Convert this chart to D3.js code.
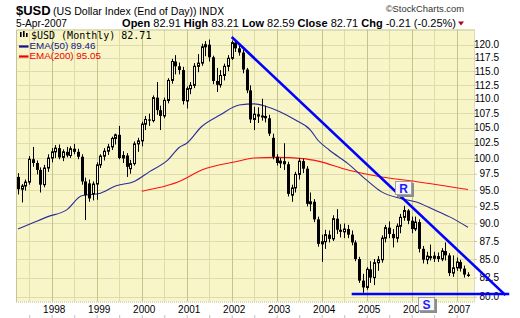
<!DOCTYPE html>
<html>
<head>
<meta charset="utf-8">
<script src="https://cdn.jsdelivr.net/npm/d3@7"></script>
<style>
  body { margin: 0; background: #fff; }
  svg { display: block; }
</style>
</head>
<body>
<div id="chart"></div>
<script>
// monthly bars, first one is April 1997
const firstMonth = "1997-04";

const opens = [
  97.0, 95.1, 95.6, 96.2, 99.8, 99.2, 98.1, 95.8, 98.4, 100.0, 101.0, 101.6,
  100.1, 101.0, 100.4, 101.5, 101.0, 100.2, 96.3, 96.0, 94.4, 95.9, 98.9, 100.3,
  101.1, 101.8, 103.2, 103.8, 100.0, 100.4, 98.3, 99.1, 102.3, 102.8, 105.6, 106.4,
  106.2, 110.2, 108.0, 107.0, 109.7, 113.3, 116.8, 115.9, 115.2, 109.6, 111.8, 112.4,
  115.9, 116.5, 119.6, 120.0, 117.6, 113.2, 112.5, 114.2, 115.9, 117.4, 120.4, 119.3,
  118.5, 115.3, 111.5, 106.4, 107.3, 106.9, 107.0, 106.6, 103.3, 100.2, 99.2, 99.5,
  99.0, 94.2, 95.3, 97.4, 99.5, 98.3, 92.9, 93.2, 90.6, 87.1, 87.4, 88.4,
  87.8, 90.7, 89.1, 88.8, 89.2, 88.4, 87.3, 85.0, 82.1, 81.2, 83.6, 82.5,
  84.5, 84.9, 87.9, 89.4, 88.5, 87.9, 89.6, 90.9, 91.9, 90.4, 89.2, 90.2,
  86.4, 84.9, 85.4, 85.1, 85.4, 85.0, 86.1, 85.5, 83.1, 83.8, 84.6, 83.7,
  82.91
];
const highs = [
  97.6, 95.9, 96.6, 100.3, 101.8, 99.6, 98.5, 98.9, 100.6, 101.6, 102.1, 102.2,
  101.4, 101.8, 101.9, 102.3, 101.5, 100.6, 96.9, 96.6, 96.3, 99.3, 100.6, 101.6,
  102.3, 103.5, 104.0, 105.3, 101.1, 100.8, 99.7, 102.7, 103.3, 106.0, 107.0, 107.4,
  110.6, 113.0, 108.8, 110.2, 113.7, 117.3, 118.0, 116.6, 115.8, 112.2, 113.0, 116.5,
  118.2, 120.2, 120.7, 121.0, 117.9, 115.6, 115.2, 116.4, 118.0, 120.8, 120.9, 120.0,
  119.0, 115.6, 112.4, 108.6, 108.5, 110.0, 108.8, 107.2, 104.0, 100.6, 100.0, 102.4,
  99.4, 95.8, 97.8, 100.0, 99.9, 98.7, 94.6, 93.6, 91.0, 88.4, 89.1, 89.0,
  91.2, 92.1, 89.9, 90.0, 89.8, 89.0, 87.6, 85.3, 83.0, 83.9, 84.7, 85.0,
  85.4, 88.3, 89.8, 90.3, 89.2, 90.0, 91.4, 92.6, 92.1, 91.0, 91.0, 90.6,
  86.8, 86.0, 87.0, 86.0, 85.9, 86.5, 87.3, 85.8, 85.5, 85.2, 84.9, 84.1,
  83.21
];
const lows = [
  94.3, 93.1, 94.9, 95.8, 98.6, 97.4, 94.6, 95.4, 97.8, 99.3, 100.0, 99.8,
  99.5, 100.1, 100.0, 100.6, 99.8, 95.8, 90.5, 93.2, 93.4, 93.5, 98.4, 99.6,
  100.5, 101.3, 102.2, 99.8, 99.2, 97.0, 97.5, 98.8, 101.0, 101.9, 104.6, 105.3,
  105.9, 107.2, 104.6, 106.6, 109.2, 112.7, 114.4, 114.4, 109.0, 108.3, 110.8, 111.9,
  114.8, 116.0, 117.8, 116.8, 112.6, 111.2, 112.0, 113.3, 115.0, 117.1, 118.6, 117.9,
  114.6, 111.0, 105.8, 104.6, 105.8, 106.2, 105.9, 103.6, 99.8, 98.8, 98.4, 98.1,
  94.0, 93.2, 94.6, 96.6, 97.6, 92.5, 91.8, 90.2, 86.7, 84.6, 86.4, 87.3,
  87.5, 88.5, 88.0, 87.9, 87.9, 86.9, 84.7, 81.8, 80.5, 80.9, 81.8, 81.5,
  83.4, 84.5, 87.3, 87.9, 86.6, 87.3, 88.6, 90.4, 89.9, 88.6, 88.9, 85.9,
  84.4, 84.3, 84.8, 84.6, 84.6, 84.7, 84.8, 82.7, 82.6, 83.4, 83.3, 82.5,
  82.59
];
const closes = [
  95.1, 95.6, 96.2, 99.8, 99.2, 98.1, 95.8, 98.4, 100.0, 101.0, 101.6, 100.1,
  101.0, 100.4, 101.5, 101.0, 100.2, 96.3, 94.2, 93.7, 95.9, 98.9, 100.3, 101.1,
  101.8, 103.2, 103.8, 100.0, 100.4, 98.6, 99.1, 102.3, 102.8, 105.6, 106.4, 106.2,
  110.2, 108.0, 107.0, 109.7, 113.3, 116.8, 115.9, 115.2, 109.6, 111.8, 112.4, 115.9,
  116.5, 119.6, 120.0, 117.6, 113.2, 112.5, 114.2, 115.9, 117.4, 120.4, 119.3, 118.5,
  115.3, 111.5, 106.4, 107.3, 106.9, 107.0, 106.6, 104.0, 100.2, 99.2, 99.5, 99.0,
  94.4, 95.3, 97.4, 99.5, 98.3, 92.9, 93.2, 90.6, 87.1, 87.4, 88.4, 87.8,
  90.7, 89.1, 88.8, 89.2, 88.4, 87.3, 85.0, 82.1, 81.2, 83.6, 82.5, 84.5,
  84.9, 87.9, 89.4, 88.5, 87.9, 89.6, 90.9, 91.9, 90.4, 89.2, 90.2, 86.4,
  84.9, 85.4, 85.1, 85.4, 85.0, 86.1, 85.5, 83.1, 83.8, 84.6, 83.7, 82.9,
  82.71
];

const ema50 = [
  ["1997-04", 89.2], ["1997-08", 90.1], ["1997-12", 91.0], ["1998-05", 92.0],
  ["1998-09", 94.1], ["1999-02", 94.5], ["1999-06", 95.6], ["1999-11", 96.3],
  ["2000-03", 97.8], ["2000-08", 99.7], ["2000-11", 101.7], ["2001-01", 102.4],
  ["2001-05", 105.2], ["2001-10", 107.2], ["2002-03", 108.9], ["2002-07", 109.1],
  ["2002-10", 108.7], ["2003-02", 107.7], ["2003-06", 106.3], ["2003-10", 104.6],
  ["2003-12", 102.9], ["2004-03", 101.3], ["2004-08", 99.1], ["2005-01", 96.5],
  ["2005-05", 94.7], ["2005-10", 93.7], ["2006-02", 93.2], ["2006-07", 92.0],
  ["2006-11", 91.0], ["2007-04", 89.46]
];
const ema200 = [
  ["2000-01", 94.8], ["2000-08", 95.7], ["2000-11", 96.3], ["2001-05", 98.1],
  ["2002-02", 99.4], ["2002-07", 100.0], ["2003-01", 100.1], ["2003-08", 99.9],
  ["2003-12", 99.5], ["2004-08", 98.1], ["2005-05", 97.0], ["2006-02", 96.3],
  ["2007-04", 95.05]
];

const priceTicks = [80, 82.5, 85, 87.5, 90, 92.5, 95, 97.5, 100, 102.5, 105, 107.5, 110, 112.5, 115, 117.5, 120];
const yearLabels = [1998, 1999, 2000, 2001, 2002, 2003, 2004, 2005, 2006, 2007];

// drawn-in trend lines and their labels
const resistance = [["2002-01", 121.5], ["2008-02", 80.2]];
const support = [["2004-09", 80.35], ["2008-03", 80.35]];
const notes = [{ text: "R", month: "2005-11", value: 95.2 }, { text: "S", month: "2006-05", value: 79.0 }];

const quote = [["Open", "82.91"], ["High", "83.21"], ["Low", "82.59"], ["Close", "82.71"], ["Chg", "-0.21 (-0.25%)"]];

const width = 520, height = 318;
const plot = { left: 16, right: 474, top: 29.5, bottom: 301.5 };

const [y0, m0] = firstMonth.split("-").map(Number);
const monthIndex = s => {
  const [yy, mm] = s.split("-").map(Number);
  return (yy - y0) * 12 + (mm - m0);
};

const bars = closes.map((c, i) => ({ i, o: opens[i], h: highs[i], l: lows[i], c }));

const x = d3.scaleLinear().domain([0, 120]).range([17.95, 467.95]);
const y = d3.scaleLog().domain([80, 120]).range([296.7, 44.7]);

const svg = d3.select("#chart").append("svg")
  .attr("width", width)
  .attr("height", height)
  .style("font-family", "Arial, 'Liberation Sans', sans-serif");

svg.append("rect").attr("width", width).attr("height", height).attr("fill", "#fff");

const bg = "#f8f6c8";
svg.append("rect")
  .attr("x", plot.left).attr("y", plot.top)
  .attr("width", plot.right - plot.left).attr("height", plot.bottom - plot.top)
  .attr("fill", bg);

svg.append("defs").append("clipPath").attr("id", "clip")
  .append("rect")
  .attr("x", plot.left).attr("y", plot.top)
  .attr("width", plot.right - plot.left).attr("height", plot.bottom - plot.top);

// grid
const halfYears = [];
for (let yr = 1997; yr <= 2007; yr++) {
  [1, 7].forEach(m => {
    const idx = monthIndex(`${yr}-${String(m).padStart(2, "0")}`);
    if (idx >= 0 && idx <= 120) halfYears.push({ idx, jan: m === 1 });
  });
}
const grid = svg.append("g");
grid.selectAll("line.h")
  .data(priceTicks)
  .join("line")
  .attr("class", "h")
  .attr("x1", plot.left).attr("x2", plot.right)
  .attr("y1", d => Math.round(y(d)) + 0.5).attr("y2", d => Math.round(y(d)) + 0.5)
  .attr("stroke", "#dddcaa");
grid.selectAll("line.v")
  .data(halfYears)
  .join("line")
  .attr("class", "v")
  .attr("x1", d => Math.round(x(d.idx)) + 0.5).attr("x2", d => Math.round(x(d.idx)) + 0.5)
  .attr("y1", plot.top).attr("y2", plot.bottom)
  .attr("stroke", d => d.jan ? "#c2c48c" : "#dddcaa");

// border
svg.append("path")
  .attr("d", `M${plot.left + 0.5},${plot.bottom}V${plot.top + 0.5}H${plot.right}`)
  .attr("fill", "none").attr("stroke", "#c4c498");
svg.append("path")
  .attr("d", `M${plot.left},${plot.bottom + 0.5}H${plot.right + 0.5}V${plot.top}`)
  .attr("fill", "none").attr("stroke", "#b8b88c").attr("stroke-dasharray", "1,1");

const inner = svg.append("g").attr("clip-path", "url(#clip)");

// moving averages
const emaLine = d3.line()
  .x(d => x(monthIndex(d[0])))
  .y(d => y(d[1]))
  .curve(d3.curveMonotoneX);

inner.append("path").datum(ema200)
  .attr("d", emaLine).attr("fill", "none")
  .attr("stroke", "#ff1010").attr("stroke-width", 1.1);
inner.append("path").datum(ema50)
  .attr("d", emaLine).attr("fill", "none")
  .attr("stroke", "#2b2b9a").attr("stroke-width", 1.1);

// candles
const candle = inner.append("g")
  .selectAll("g")
  .data(bars)
  .join("g")
  .attr("transform", d => `translate(${Math.round(x(d.i))},0)`);

candle.append("line")
  .attr("x1", 0.5).attr("x2", 0.5)
  .attr("y1", d => y(d.h)).attr("y2", d => y(d.l))
  .attr("stroke", "#000");

candle.append("rect")
  .attr("x", d => d.c < d.o ? -1 : -0.5)
  .attr("width", d => d.c < d.o ? 3 : 2)
  .attr("y", d => y(Math.max(d.o, d.c)))
  .attr("height", d => Math.max(1, y(Math.min(d.o, d.c)) - y(Math.max(d.o, d.c))))
  .attr("fill", d => d.c < d.o ? "#000" : bg)
  .attr("stroke", d => d.c < d.o ? "none" : "#000");

// right price axis
const yAxis = svg.append("g")
  .attr("transform", `translate(${plot.right},0)`)
  .call(d3.axisRight(y).tickValues(priceTicks).tickFormat(d3.format(".1f")).tickSize(3).tickPadding(2));
yAxis.select(".domain").remove();
yAxis.selectAll(".tick line").attr("stroke", "#c8c8a0");
yAxis.selectAll("text")
  .attr("x", 25)
  .attr("text-anchor", "end")
  .attr("fill", "#000")
  .style("font-family", "'Liberation Sans Narrow', 'Arial Narrow', Arial, sans-serif")
  .style("font-size", "10px");

// bottom year axis
const xAxis = svg.append("g")
  .attr("transform", `translate(0,${plot.bottom})`)
  .call(d3.axisBottom(x)
    .tickValues(yearLabels.map(yr => monthIndex(`${yr}-01`)))
    .tickFormat((d, k) => yearLabels[k])
    .tickSize(0).tickPadding(4));
xAxis.select(".domain").remove();
xAxis.selectAll("text")
  .attr("dx", "0.2em")
  .attr("fill", "#000")
  .style("font-family", "'Liberation Sans Narrow', 'Arial Narrow', Arial, sans-serif")
  .style("font-size", "10px");

const xTicks = svg.append("g")
  .attr("transform", "translate(0,315)")
  .call(d3.axisBottom(x).tickValues(halfYears.map(d => d.idx)).tickFormat("").tickSize(3));
xTicks.select(".domain").remove();
xTicks.selectAll("line").attr("stroke", "#c0c0c0");

// trend lines
const trend = d3.line()
  .x(d => x(monthIndex(d[0])))
  .y(d => y(d[1]));
[resistance, support].forEach(seg => {
  svg.append("path").datum(seg)
    .attr("d", trend)
    .attr("fill", "none")
    .attr("stroke", "#0000ff")
    .attr("stroke-width", 2.6);
});

// R / S boxes
const note = svg.append("g")
  .selectAll("g")
  .data(notes)
  .join("g")
  .attr("transform", d => `translate(${Math.round(x(monthIndex(d.month)))},${Math.round(y(d.value))})`);
note.append("rect")
  .attr("x", -7).attr("y", -6).attr("width", 17).attr("height", 14)
  .attr("fill", "#8c8c8c");
note.append("rect")
  .attr("x", -8.5).attr("y", -7.5).attr("width", 16).attr("height", 13)
  .attr("fill", "#f6f6f6").attr("stroke", "#a0a0a0");
note.append("text")
  .attr("x", -0.5).attr("y", 4)
  .attr("text-anchor", "middle")
  .attr("fill", "#1c1cff")
  .style("font-weight", "bold")
  .style("font-size", "12px")
  .text(d => d.text);

// legend inside plot
const legend = svg.append("g");
legend.selectAll("rect.icon")
  .data([[20, 32, 5], [23, 31, 6], [26, 33, 4]])
  .join("rect")
  .attr("class", "icon")
  .attr("x", d => d[0]).attr("y", d => d[1])
  .attr("width", 1.6).attr("height", d => d[2])
  .attr("fill", "#000");
legend.append("text")
  .attr("x", 31).attr("y", 38.5)
  .style("font-family", "'DejaVu Sans Mono', monospace")
  .style("font-size", "10px")
  .text(`$USD (Monthly) ${closes[closes.length - 1].toFixed(2)}`);

const emaLegend = [
  { label: `EMA(50) ${ema50[ema50.length - 1][1].toFixed(2)}`, color: "#12128c", yy: 49 },
  { label: `EMA(200) ${ema200[ema200.length - 1][1].toFixed(2)}`, color: "#ee0000", yy: 59 }
];
emaLegend.forEach(d => {
  legend.append("line")
    .attr("x1", 19).attr("x2", 28.5)
    .attr("y1", d.yy - 2.5).attr("y2", d.yy - 2.5)
    .attr("stroke", d.color).attr("stroke-width", 2.2);
  legend.append("text")
    .attr("x", 29.5).attr("y", d.yy)
    .attr("fill", d.color)
    .style("font-size", "9.8px")
    .text(d.label);
});

// header
svg.append("text")
  .attr("x", 16).attr("y", 15)
  .style("font-weight", "bold").style("font-size", "13px")
  .text("$USD");
svg.append("text")
  .attr("x", 53).attr("y", 15)
  .style("font-size", "10.6px")
  .text("(US Dollar Index (End of Day))");
svg.append("text")
  .attr("x", 199).attr("y", 15)
  .style("font-family", "'DejaVu Sans', Verdana, sans-serif")
  .style("font-size", "10px")
  .text("INDX");
svg.append("text")
  .attr("x", 16).attr("y", 27)
  .style("font-size", "10.2px")
  .text("5-Apr-2007");
svg.append("text")
  .attr("x", 464).attr("y", 12)
  .attr("text-anchor", "end")
  .attr("fill", "#333")
  .style("font-size", "9.4px")
  .text("\u00a9StockCharts.com");

const quoteText = svg.append("text")
  .attr("x", 456).attr("y", 27)
  .attr("text-anchor", "end")
  .style("font-size", "11px");
quote.forEach(([k, v], n) => {
  quoteText.append("tspan").style("font-weight", "bold").text((n ? " " : "") + k);
  quoteText.append("tspan").text(" " + v);
});
svg.append("path")
  .attr("d", "M458,21.5H464L461,25.5Z")
  .attr("fill", "#b00020");
</script>
</body>
</html>
